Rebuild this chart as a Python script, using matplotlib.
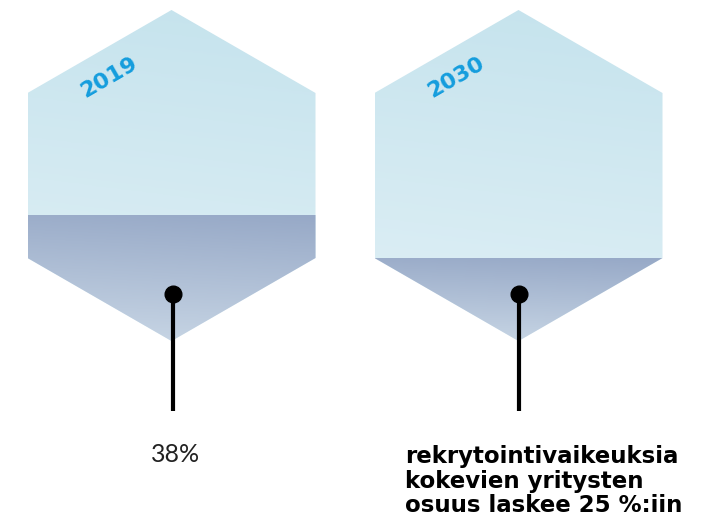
import numpy as np
import matplotlib
matplotlib.use("Agg")
import matplotlib.pyplot as plt
from matplotlib.patches import Polygon
from matplotlib.colors import LinearSegmentedColormap

years = ["2019", "2030"]
values = [38, 25]  # percent of hexagon height filled
captions = ["38%", "rekrytointivaikeuksia\nkokevien yritysten\nosuus laskee 25 %:iin"]
caption_bold = [False, True]

W, H = 709, 521
fig = plt.figure(figsize=(W / 100, H / 100), dpi=100)
ax = fig.add_axes([0, 0, 1, 1])
ax.set_xlim(0, W)
ax.set_ylim(H, 0)
ax.axis("off")

centers = [171.5, 518.5]
pin_x = [173, 519]
half_w = 144
top, shoulder, lower, bottom = 10, 93, 258, 341

light_cmap = LinearSegmentedColormap.from_list("l", ["#c5e3ed", "#e0f0f6"])
dark_cmap = LinearSegmentedColormap.from_list("d", ["#97a9c7", "#c8d6e5"])


def grad_image(x0, x1, y0, y1, cmap, z):
    ny, nx = 100, 100
    yy, xx = np.mgrid[0:1:ny * 1j, 0:1:nx * 1j]
    g = np.clip(yy * 0.9 + (1 - xx) * 0.1, 0, 1)
    im = ax.imshow(g, cmap=cmap, extent=[x0, x1, y1, y0], origin="upper",
                   aspect="auto", zorder=z, interpolation="bilinear", vmin=0, vmax=1)
    return im


for cx, px, yr, v, cap, bold in zip(centers, pin_x, years, values, captions, caption_bold):
    verts = [(cx, top), (cx + half_w, shoulder), (cx + half_w, lower),
             (cx, bottom), (cx - half_w, lower), (cx - half_w, shoulder)]
    hexp = Polygon(verts, closed=True, facecolor="none", edgecolor="none")
    ax.add_patch(hexp)
    im = grad_image(cx - half_w, cx + half_w, top, bottom, light_cmap, 1)
    im.set_clip_path(hexp)

    fill_y = bottom - v / 100 * (bottom - top)
    hexp2 = Polygon(verts, closed=True, facecolor="none", edgecolor="none")
    ax.add_patch(hexp2)
    im2 = grad_image(cx - half_w, cx + half_w, fill_y, bottom, dark_cmap, 2)
    im2.set_clip_path(hexp2)

    ax.text(cx - 62, 77, yr, rotation=30, color="#149ddd", fontsize=16,
            fontweight="bold", family="DejaVu Sans", ha="center", va="center", zorder=5)

    ax.plot([px, px], [294, 411], color="black", lw=3, zorder=5, solid_capstyle="butt")
    ax.plot([px], [294], "o", color="black", ms=12, zorder=6)

    if bold:
        ax.text(px - 114, 512, cap, fontsize=16.5, fontweight="bold", family="DejaVu Sans",
                ha="left", va="baseline", linespacing=1.08, color="black", zorder=5)
    else:
        ax.text(px + 3, 455, cap, fontsize=18, fontweight="normal", family="Lato",
                ha="center", va="center", color="#222222", zorder=5)

fig.savefig("out.png", dpi=100)
